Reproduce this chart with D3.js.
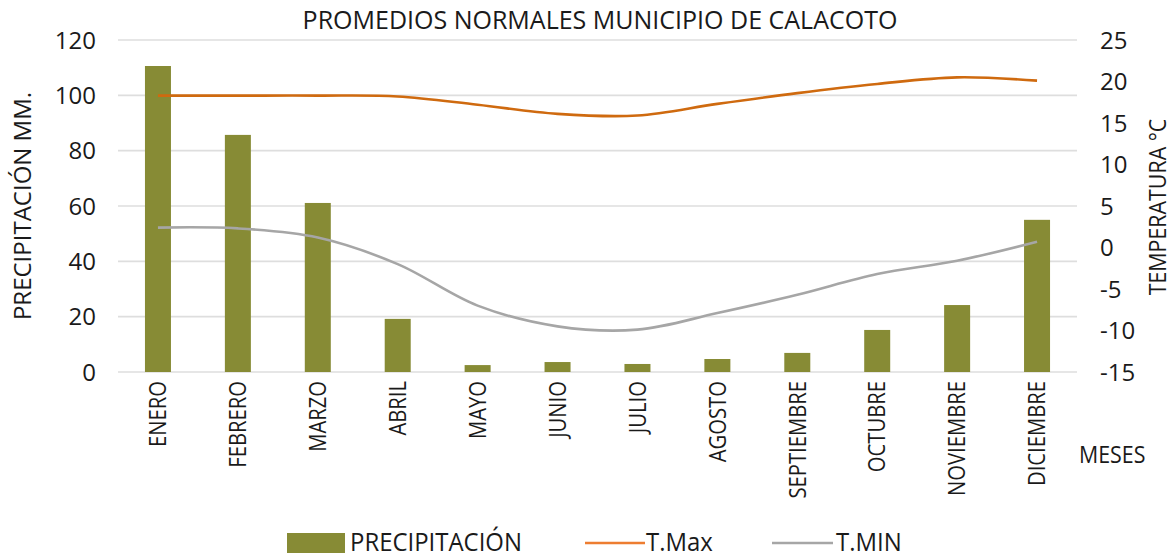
<!DOCTYPE html>
<html>
<head>
<meta charset="utf-8">
<script src="https://cdn.jsdelivr.net/npm/d3@7"></script>
<style>
  body { margin: 0; background: #fff; }
  text { font-family: "Open Sans", sans-serif; fill: #1a1a1a; }
</style>
</head>
<body>
<div id="chart"></div>
<script>
// data
const months = ["ENERO", "FEBRERO", "MARZO", "ABRIL", "MAYO", "JUNIO", "JULIO",
  "AGOSTO", "SEPTIEMBRE", "OCTUBRE", "NOVIEMBRE", "DICIEMBRE"];
const precip = [110.6, 85.7, 61.1, 19.2, 2.5, 3.6, 2.9, 4.7, 6.9, 15.2, 24.2, 55.0];
const tMax = [18.3, 18.3, 18.3, 18.2, 17.2, 16.1, 15.9, 17.3, 18.6, 19.7, 20.5, 20.1];
const tMin = [2.4, 2.3, 1.2, -2.0, -7.0, -9.5, -9.9, -7.9, -5.7, -3.2, -1.6, 0.7];
const precipTicks = [0, 20, 40, 60, 80, 100, 120];
const tempTicks = [-15, -10, -5, 0, 5, 10, 15, 20, 25];

const w = 1175;
const h = 556;
const plotL = 118, plotR = 1077, plotT = 40, plotB = 372;

const svg = d3.select("#chart").append("svg")
  .attr("width", w)
  .attr("height", h);

const x = d3.scaleBand().domain(months).range([plotL, plotR]);
const yP = d3.scaleLinear().domain([0, 120]).range([plotB, plotT]);
const yT = d3.scaleLinear().domain([-15, 25]).range([plotB, plotT]);

// squeeze a text horizontally a bit, the original font is narrower
function squeeze(sel, k) {
  sel.each(function () {
    const len = this.getComputedTextLength();
    d3.select(this).attr("textLength", len * k).attr("lengthAdjust", "spacingAndGlyphs");
  });
}

// gridlines
svg.append("g")
  .selectAll("line")
  .data(precipTicks)
  .enter()
  .append("line")
  .attr("x1", plotL)
  .attr("x2", plotR)
  .attr("y1", d => yP(d))
  .attr("y2", d => yP(d))
  .attr("stroke", "#dedede")
  .attr("stroke-width", 1.6);

// left ticks
svg.append("g")
  .selectAll("text")
  .data(precipTicks)
  .enter()
  .append("text")
  .attr("x", 96)
  .attr("y", d => yP(d))
  .attr("dy", "0.36em")
  .attr("text-anchor", "end")
  .style("font-size", "24px")
  .text(d => d);

// right ticks
svg.append("g")
  .selectAll("text")
  .data(tempTicks)
  .enter()
  .append("text")
  .attr("x", 1100)
  .attr("y", d => yT(d))
  .attr("dy", "0.36em")
  .style("font-size", "24px")
  .text(d => d);

// bars
const bw = 26;
svg.append("g")
  .selectAll("rect")
  .data(precip)
  .enter()
  .append("rect")
  .attr("x", (d, i) => x(months[i]) + x.bandwidth() / 2 - bw / 2)
  .attr("y", d => yP(d))
  .attr("width", bw)
  .attr("height", d => yP(0) - yP(d))
  .attr("fill", "#878b35");

// lines
const line = d3.line()
  .x((d, i) => x(months[i]) + x.bandwidth() / 2)
  .y(d => yT(d))
  .curve(d3.curveCatmullRom);

svg.append("path")
  .attr("d", line(tMax))
  .attr("fill", "none")
  .attr("stroke", "#cf6a0f")
  .attr("stroke-width", 2.6);

svg.append("path")
  .attr("d", line(tMin))
  .attr("fill", "none")
  .attr("stroke", "#a6a6a6")
  .attr("stroke-width", 2.6);

// month labels
svg.append("g")
  .selectAll("text")
  .data(months)
  .enter()
  .append("text")
  .attr("transform", d => "translate(" + (x(d) + x.bandwidth() / 2) + ",381) rotate(-90)")
  .attr("dy", "0.36em")
  .attr("text-anchor", "end")
  .style("font-size", "23px")
  .text(d => d)
  .call(squeeze, 0.88);

// titles
svg.append("text")
  .attr("x", 600)
  .attr("y", 29)
  .attr("text-anchor", "middle")
  .style("font-size", "25px")
  .text("PROMEDIOS NORMALES MUNICIPIO DE CALACOTO");

svg.append("text")
  .attr("transform", "translate(22,206) rotate(-90)")
  .attr("dy", "0.36em")
  .attr("text-anchor", "middle")
  .style("font-size", "24px")
  .text("PRECIPITACIÓN MM.");

svg.append("text")
  .attr("transform", "translate(1158,207) rotate(-90)")
  .attr("dy", "0.36em")
  .attr("text-anchor", "middle")
  .style("font-size", "23px")
  .text("TEMPERATURA °C")
  .call(squeeze, 0.93);

svg.append("text")
  .attr("x", 1079)
  .attr("y", 463)
  .style("font-size", "23px")
  .text("MESES")
  .call(squeeze, 0.93);

// legend
const legend = svg.append("g");
legend.append("rect")
  .attr("x", 287).attr("y", 533)
  .attr("width", 58).attr("height", 20)
  .attr("fill", "#878b35");
legend.append("text")
  .attr("x", 350).attr("y", 551)
  .style("font-size", "26px")
  .text("PRECIPITACIÓN")
  .call(squeeze, 0.92);

legend.append("line")
  .attr("x1", 585).attr("x2", 645)
  .attr("y1", 543).attr("y2", 543)
  .attr("stroke", "#ed7d31").attr("stroke-width", 2.6);
legend.append("text")
  .attr("x", 646).attr("y", 551)
  .style("font-size", "26px")
  .text("T.Max")
  .call(squeeze, 0.92);

legend.append("line")
  .attr("x1", 772).attr("x2", 833)
  .attr("y1", 543).attr("y2", 543)
  .attr("stroke", "#a6a6a6").attr("stroke-width", 2.6);
legend.append("text")
  .attr("x", 836).attr("y", 551)
  .style("font-size", "26px")
  .text("T.MIN")
  .call(squeeze, 0.92);
</script>
</body>
</html>
